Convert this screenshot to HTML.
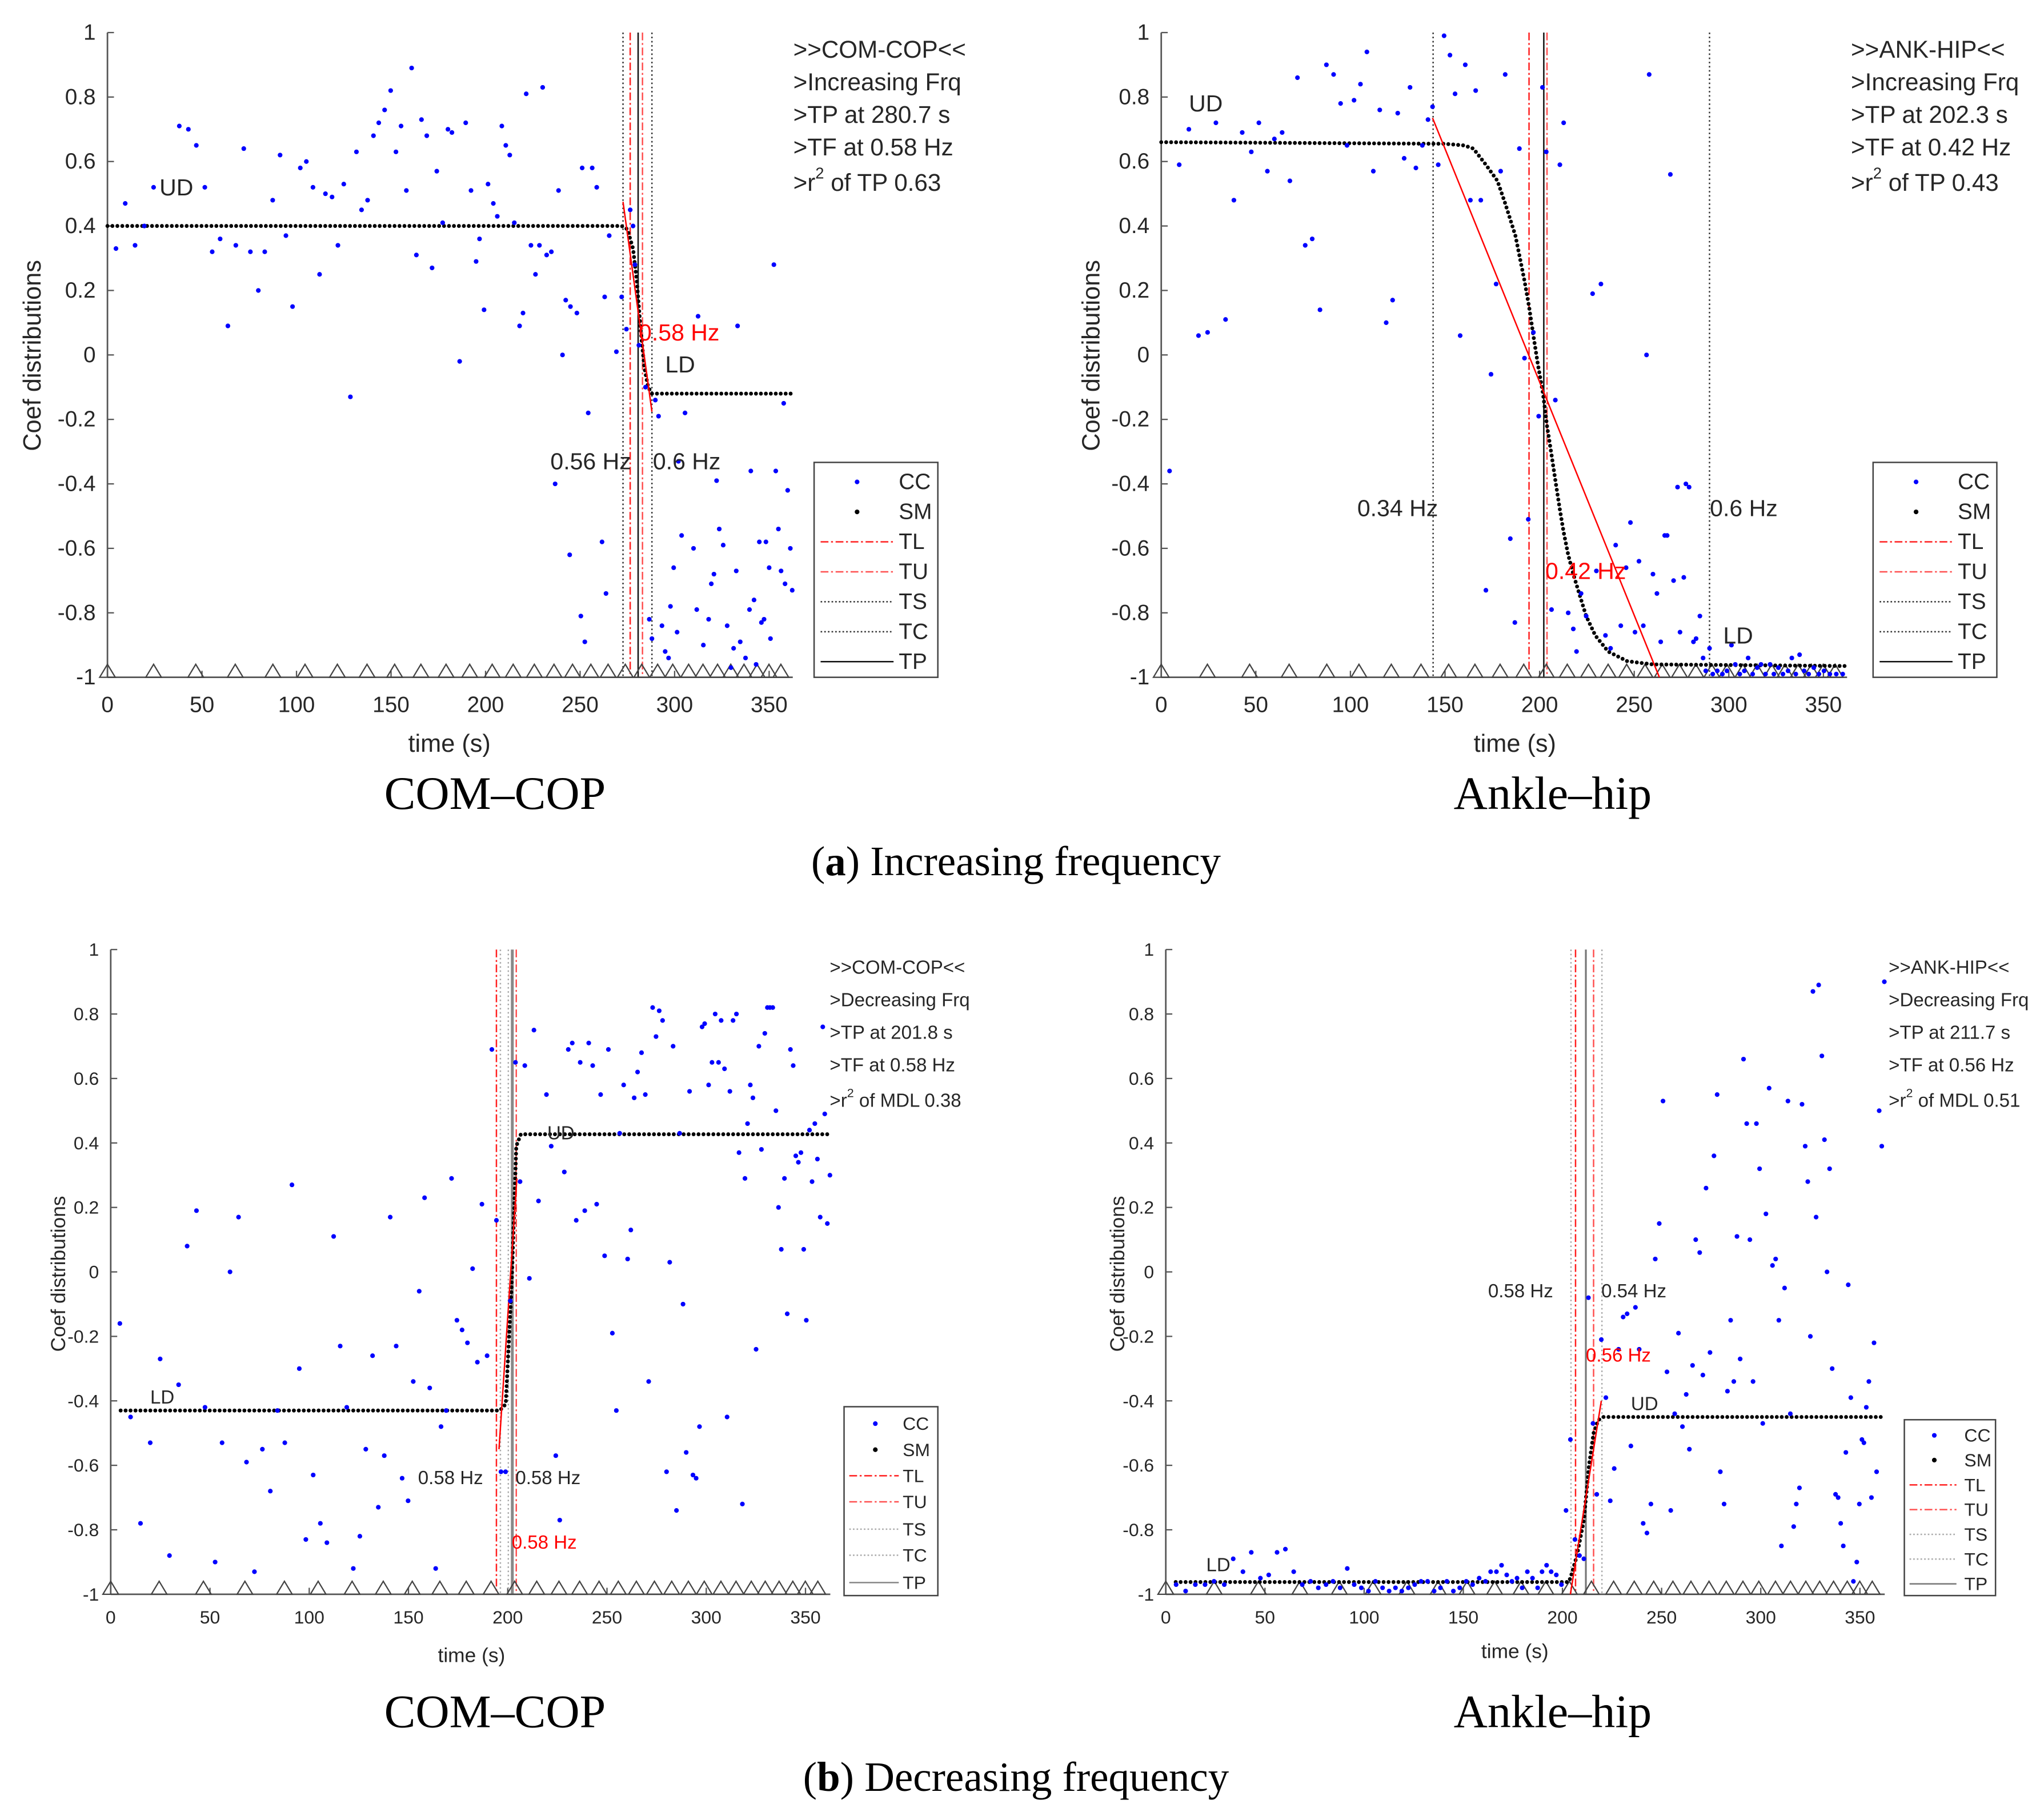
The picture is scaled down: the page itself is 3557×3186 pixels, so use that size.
<!DOCTYPE html>
<html><head><meta charset="utf-8"><title>Coef distributions</title>
<style>
html,body{margin:0;padding:0;background:#fff;}
svg{display:block;}
text{font-family:"Liberation Sans",sans-serif;fill:#262626;}
.serif{font-family:"Liberation Serif",serif;fill:#000;}
</style></head>
<body>
<svg id="fig" xmlns="http://www.w3.org/2000/svg" width="3557" height="3186" viewBox="0 0 1560 1397.3" preserveAspectRatio="none">
<rect x="0" y="0" width="1560" height="1397.3" fill="#fff"/>
<text class="serif" x="380" y="621" font-size="36" text-anchor="middle">COM–COP</text>
<text class="serif" x="1192" y="621" font-size="36" text-anchor="middle">Ankle–hip</text>
<text class="serif" x="780" y="672" font-size="32" text-anchor="middle">(<tspan font-weight="bold">a</tspan>) Increasing frequency</text>
<text class="serif" x="380" y="1326" font-size="36" text-anchor="middle">COM–COP</text>
<text class="serif" x="1192" y="1326" font-size="36" text-anchor="middle">Ankle–hip</text>
<text class="serif" x="780" y="1375" font-size="32" text-anchor="middle">(<tspan font-weight="bold">b</tspan>) Decreasing frequency</text>
</svg>
<script>
// shared triangle marker times
const triTimes=[0,24.4,46.7,67.6,87.5,104.5,121.6,137.3,151.9,165.8,179.1,191.6,203.5,214.6,225.8,236.2,246,255.7,264.8,273.9,282.6,291,299,307.4,315,322.7,329.7,336.7,343.6,349.9,356.2];
const yTicks=[1,0.8,0.6,0.4,0.2,0,-0.2,-0.4,-0.6,-0.8,-1];
const yTickLabels=["1","0.8","0.6","0.4","0.2","0","-0.2","-0.4","-0.6","-0.8","-1"];
const xTicks=[0,50,100,150,200,250,300,350];
const legendLabels=["CC","SM","TL","TU","TS","TC","TP"];

// Panel A-left (COM-COP increasing)
const aL_ccT=[4.5,9.4,14.6,19.5,24.4,38,42.8,47,51.5,55.4,59.6,63.7,67.9,72.1,75.6,79.8,83.2,87.4,91.3,94.4,97.9,102,105.2,108.7,112.2,115.3,118.8,121.9,125,128.5,131.7,134.4,137.6,140.7,143.5,146.6,149.8,152.6,155.3,158.1,160.9,163.4,166.1,168.9,171.7,174.2,177.3,180.1,182.2,186.3,189.5,192.3,195,196.8,199.2,201.3,204.1,206.2,208.6,210.7,212.8,215.2,218,219.8,221.5,224,226.4,228.5,230.2,232.3,234.8,238.6,240.7,242.4,244.9,248.3,251.1,254.3,256.4,258.8,263,265.4,269.2,272,274.5,276.5,278,279,281.1,284.6,289.8,291.5,305.5,312.4,333.3,352.5,357.7,236.8,244.5,261.6,263.7,250.4,252.5,286.6,288,293.3,295,296.8,297.8,299.5,301.3,303.7,310,311.7,315.2,318,319.4,320.8,322.2,323.6,325.7,327.8,329.8,331.2,332.6,334.7,337.5,339.6,340.3,342,343.1,344.8,345.9,347.3,348.3,350,350.7,353.5,354.9,356.3,358.4,359.8,361.2,362.2,302];
const aL_ccV=[0.33,0.47,0.34,0.40,0.52,0.71,0.70,0.65,0.52,0.32,0.36,0.09,0.34,0.64,0.32,0.20,0.32,0.48,0.62,0.37,0.15,0.58,0.60,0.52,0.25,0.50,0.49,0.34,0.53,-0.13,0.63,0.45,0.48,0.68,0.72,0.76,0.82,0.63,0.71,0.51,0.89,0.31,0.73,0.68,0.27,0.57,0.41,0.70,0.69,-0.02,0.72,0.51,0.29,0.36,0.14,0.53,0.47,0.43,0.71,0.65,0.62,0.41,0.09,0.13,0.81,0.34,0.25,0.34,0.83,0.31,0.32,0.51,0.0,0.17,0.15,0.13,0.58,-0.18,0.58,0.52,0.18,0.37,0.01,0.18,0.08,0.45,0.40,0.28,0.03,-0.10,-0.14,-0.19,-0.18,0.12,0.09,0.28,-0.15,-0.40,-0.62,-0.58,-0.74,-0.81,-0.89,-0.82,-0.88,-0.84,-0.92,-0.94,-0.78,-0.66,-0.86,-0.56,-0.60,-0.79,-0.90,-0.82,-0.71,-0.68,-0.39,-0.54,-0.59,-0.84,-0.97,-0.91,-0.67,-0.89,-0.94,-0.79,-0.36,-0.76,-0.96,-0.58,-0.83,-0.82,-0.58,-0.66,-0.88,-0.36,-0.54,-0.67,-0.71,-0.42,-0.60,-0.73,-0.33];
const aL_smT=[0,272,275,278,280,282,284,286,288,362];
const aL_smV=[0.40,0.40,0.39,0.33,0.23,0.08,-0.04,-0.10,-0.12,-0.12];
const aL_fitT=[272.7,288];
const aL_fitV=[0.475,-0.176];
const aL_vlines=[272.7,276.5,280.7,283,288]; // TS, TL, TP, TU, TC
const aL_notes=[">>COM-COP<<",">Increasing Frq",">TP at 280.7 s",">TF at 0.58 Hz","TP 0.63"];

// Panel A-right (ANK-HIP increasing)
const aR_ccT=[4.4,9.5,14.6,19.7,24.5,28.9,34,38.4,42.8,47.6,51.6,56.1,59.8,63.9,68,72,76.1,79.8,83.9,87.3,91.1,94.8,98.2,101.9,105.3,108.7,112.1,115.5,118.9,122.3,125,128.4,131.5,134.6,138,141,143.4,146.4,149.5,152.6,155.3,158,160.7,163.4,166.2,168.9,171.6,174.3,177,179.4,181.8,184.5,186.9,189.3,192,194,196.7,199.5,201.5,203.5,206.3,208.3,210.7,212.7,215.1,217.8,219.5,221.9,224.6,228,230,232.4,234.8,237.5,240.2,242.9,245.7,248,250.4,252.5,254.8,256.5,257.9,259.9,262,264,266.1,267.4,269.1,270.8,272.9,274.2,276.2,277.3,279,281.3,282.7,284.7,286.4,287.8,289.8,291.5,293.9,296.6,299,301.4,303.4,305.8,308.2,310.2,312.6,315,317,319.4,321.8,323.8,326.2,328.6,331.3,333.3,335.4,337.4,339.8,342.2,344.9,347.6,350.3,353.4,356.8,360.2];
const aR_ccV=[-0.36,0.59,0.70,0.06,0.07,0.72,0.11,0.48,0.69,0.63,0.72,0.57,0.67,0.69,0.54,0.86,0.34,0.36,0.14,0.90,0.87,0.78,0.65,0.79,0.84,0.94,0.57,0.76,0.10,0.17,0.75,0.61,0.83,0.58,0.65,0.73,0.77,0.59,0.99,0.93,0.81,0.06,0.90,0.48,0.82,0.48,-0.73,-0.06,0.22,0.57,0.87,-0.57,-0.83,0.64,-0.01,-0.51,0.07,-0.19,0.83,0.63,-0.79,-0.14,0.59,0.72,-0.80,-0.85,-0.92,-0.74,-0.81,0.19,-0.67,0.22,-0.87,-0.91,-0.59,-0.84,-0.66,-0.52,-0.86,-0.64,-0.84,0.0,0.87,-0.68,-0.74,-0.89,-0.56,-0.56,0.56,-0.70,-0.41,-0.86,-0.69,-0.40,-0.41,-0.89,-0.88,-0.81,-0.94,-0.98,-0.91,-0.99,-0.98,-0.99,-0.98,-0.90,-0.96,-0.99,-0.98,-0.94,-0.99,-0.97,-0.96,-0.99,-0.96,-0.99,-0.97,-0.99,-0.98,-0.94,-0.99,-0.93,-0.98,-0.99,-0.97,-0.99,-0.98,-0.99,-0.99,-0.99];
const aR_smT=[0,149.8,160,165,171.6,177.7,181.8,184.5,187.2,189.6,192,194.4,196.7,199.1,201.8,203.9,206.3,208.6,210.7,212.7,215.1,217.8,220.9,224.6,229.4,236.2,246.3,259.9,362.6];
const aR_smV=[0.66,0.655,0.65,0.64,0.59,0.54,0.47,0.42,0.37,0.30,0.23,0.15,0.06,-0.03,-0.12,-0.22,-0.31,-0.40,-0.48,-0.55,-0.62,-0.68,-0.74,-0.81,-0.87,-0.92,-0.95,-0.96,-0.965];
const aR_fitT=[143.4,263.3];
const aR_fitV=[0.735,-1.0];
const aR_vlines=[143.7,194.4,202.2,203.9,289.8];
const aR_notes=[">>ANK-HIP<<",">Increasing Frq",">TP at 202.3 s",">TF at 0.42 Hz","TP 0.43"];

// Panel B-left (COM-COP decreasing)
const bL_ccT=[4.6,10,15,19.9,24.9,29.6,34.2,38.5,43.2,47.5,52.6,56.1,60.1,64.4,68.4,72.4,76.4,80.4,84,87.7,91.3,95,98.3,102,105.6,108.9,112.3,115.6,118.9,122.2,125.5,128.5,131.9,134.8,137.8,140.8,143.8,146.8,149.8,152.4,155.4,158.1,160.7,163.7,166.4,169,171.7,174.4,177,179.7,182.3,184.7,187,189.6,192,194.3,196.6,198.9,201.3,203.9,206.2,208.6,210.9,213.2,215.5,219.5,221.9,224.2,226.2,228.5,230.5,232.5,234.5,236.5,238.8,240.8,242.8,244.8,246.8,248.8,250.7,252.7,254.7,256.4,258.4,260.4,262,263.7,265.4,267.4,269.3,271,273,274.7,276.3,278,280,281.6,283.3,285,286.6,288.3,289.9,291.6,293.3,294.9,296.6,297.9,299.2,301.2,302.9,304.5,306.2,307.5,309.2,310.5,311.9,313.5,315.2,316.5,318.2,319.5,320.8,322.2,323.5,325.1,326.5,327.8,329.5,330.8,332.1,333.5,335.1,336.4,337.8,339.4,340.8,342.4,343.8,345.1,346.4,347.7,349.1,350.4,352,353.3,354.7,356,357.4,358.7,359.7,361,362.3];
const bL_ccV=[-0.16,-0.45,-0.78,-0.53,-0.27,-0.88,-0.35,0.08,0.19,-0.42,-0.90,-0.53,0.0,0.17,-0.59,-0.93,-0.55,-0.68,-0.43,-0.53,0.27,-0.30,-0.83,-0.63,-0.78,-0.84,0.11,-0.23,-0.42,-0.92,-0.82,-0.55,-0.26,-0.73,-0.57,0.17,-0.23,-0.64,-0.71,-0.34,-0.06,0.23,-0.36,-0.92,-0.48,-0.43,0.29,-0.15,-0.18,-0.22,0.01,-0.28,0.21,-0.26,0.69,0.16,-0.62,-0.62,-0.09,0.65,0.28,0.64,-0.02,0.75,0.22,0.55,0.39,-0.57,-0.77,0.31,0.69,0.71,0.16,0.65,0.19,0.71,0.64,0.21,0.55,0.05,0.69,-0.19,-0.43,0.43,0.58,0.04,0.13,0.54,0.62,0.68,0.55,-0.34,0.82,0.73,0.81,0.78,-0.62,0.03,0.70,-0.74,0.43,-0.10,-0.56,0.56,-0.63,-0.64,-0.48,0.76,0.77,0.58,0.65,0.80,0.65,0.78,0.63,-0.45,0.56,0.78,0.80,0.37,-0.72,0.29,0.46,0.58,0.54,-0.24,0.70,0.38,0.74,0.82,0.82,0.82,0.50,0.20,0.07,0.29,-0.13,0.69,0.64,0.36,0.34,0.37,0.07,-0.15,0.44,0.28,0.46,0.35,0.17,0.76,0.49,0.15,0.30];
const bL_smT=[5,196,199,201.9,204.3,206.6,362.3];
const bL_smV=[-0.43,-0.43,-0.41,-0.05,0.39,0.427,0.427];
const bL_fitT=[195.6,204.6];
const bL_fitV=[-0.55,0.29];
const bL_vlines=[196.3,194.3,202.3,204.3,200.3];
const bL_notes=[">>COM-COP<<",">Decreasing Frq",">TP at 201.8 s",">TF at 0.58 Hz","MDL 0.38"];

// Panel B-right (ANK-HIP decreasing)
const bR_ccT=[5.2,10,14.9,19.8,24.3,29.5,34,38.9,43.1,47.7,51.9,56.1,60.3,64.5,68.8,73,76.9,80.8,84.3,87.9,91.5,95,98.6,102.2,105.7,109.3,112.6,115.8,119,122.3,125.5,128.7,132,135.3,138.5,141.7,145,148.2,151.5,154.7,158,161.2,163.8,166.7,169.3,171.9,174.5,177.1,179.7,182.3,184.9,187.5,189.7,192,194.3,196.9,199.5,201.8,204,206.3,208.6,210.8,213.1,215.4,217.3,219.6,221.9,224.1,226.1,228.3,230.6,232.6,234.5,236.8,238.7,240.7,242.6,244.6,246.8,248.8,250.7,252.7,254.6,256.6,258.5,260.5,262.4,264,265.6,267.2,269.2,270.8,272.4,274.4,276.4,278,279.6,281.5,283.2,284.8,286.4,288,289.6,291.3,292.9,294.5,296.1,297.8,299.4,301,302.6,304.2,305.9,307.5,309.1,310.4,312,313.7,314.9,316.6,317.9,319.5,320.8,322.4,323.7,325,326.3,327.9,329.2,330.8,332.1,333.4,334.7,336,337.7,339,340.3,341.6,342.9,344.1,345.4,346.7,348.4,349.7,351,352,353.2,354.5,355.8,357.1,358.4,359.7,361,362.3];
const bR_ccV=[-0.97,-0.99,-0.97,-0.97,-0.96,-0.97,-0.89,-0.93,-0.87,-0.95,-0.94,-0.87,-0.86,-0.93,-0.97,-0.96,-0.98,-0.97,-0.96,-0.98,-0.92,-0.97,-0.98,-0.99,-0.96,-0.98,-0.99,-0.98,-0.99,-0.98,-0.97,-0.96,-0.96,-0.99,-0.98,-0.96,-0.99,-0.98,-0.96,-0.97,-0.95,-0.96,-0.93,-0.93,-0.91,-0.94,-0.96,-0.95,-0.98,-0.93,-0.95,-0.98,-0.93,-0.91,-0.93,-0.94,-0.97,-0.74,-0.52,-0.83,-0.88,-0.89,-0.08,-0.47,-0.69,-0.21,-0.39,-0.71,-0.61,-0.24,-0.14,-0.13,-0.54,-0.11,-0.24,-0.78,-0.81,-0.72,0.04,0.15,0.53,-0.31,-0.74,-0.44,-0.19,-0.48,-0.38,-0.55,-0.29,0.10,0.06,-0.32,0.26,-0.25,0.36,0.55,-0.62,-0.72,-0.37,-0.15,-0.34,0.11,-0.27,0.66,0.46,0.10,-0.34,0.46,0.32,-0.47,0.18,0.57,0.02,0.04,-0.15,-0.85,-0.05,0.53,-0.44,-0.79,-0.72,-0.67,0.52,0.39,0.28,-0.20,0.87,0.17,0.89,0.67,0.41,0.0,0.32,-0.30,-0.69,-0.70,-0.78,-0.85,-0.56,-0.04,-0.39,-0.96,-0.90,-0.72,-0.52,-0.53,-0.42,-0.34,-0.70,-0.22,-0.62,0.50,0.39,0.90];
const bR_smT=[5,203,204,207.3,210.8,213.4,215.7,218,220.6,362.3];
const bR_smV=[-0.962,-0.962,-0.95,-0.88,-0.77,-0.60,-0.50,-0.46,-0.45,-0.45];
const bR_fitT=[204,219.6];
const bR_fitV=[-1.0,-0.40];
const bR_vlines=[204.3,206.6,211.8,215.7,219.9];
const bR_notes=[">>ANK-HIP<<",">Decreasing Frq",">TP at 211.7 s",">TF at 0.56 Hz","MDL 0.51"];

const NS="http://www.w3.org/2000/svg";
const fig=document.getElementById('fig');
function mk(tag,attrs,parent,name,inter){
  const el=document.createElementNS(NS,tag);
  for(const k in attrs) el.setAttribute(k,attrs[k]);
  
  
  (parent||fig).appendChild(el);
  return el;
}
function txt(x,y,s,size,anchor,fill,parent,name,extra){
  const a={x:x,y:y,'font-size':size,'text-anchor':anchor||'start','dominant-baseline':'central'};
  if(fill) a.style='fill:'+fill;
  if(extra) for(const k in extra) a[k]=extra[k];
  const t=mk('text',a,parent,name,false);
  t.textContent=s;
  return t;
}

function drawPanel(P){
  const g=mk('g',{},fig,P.id,false);
  const X=t=>P.x0+t*P.pps;
  const Y=v=>P.yTop+(1-v)*(P.yBot-P.yTop)/2;
  const tEnd=362.5;
  mk('line',{x1:X(0),y1:P.yTop,x2:X(0),y2:P.yBot,stroke:'#555','stroke-width':1.2},g,'y-axis-line',false);
  mk('line',{x1:X(0),y1:P.yBot,x2:X(tEnd),y2:P.yBot,stroke:'#555','stroke-width':1.2},g,'x-axis-line',false);
  yTicks.forEach((v,i)=>{
    mk('line',{x1:X(0),y1:Y(v),x2:X(0)+5,y2:Y(v),stroke:'#555','stroke-width':1},g,'y-tick',false);
    txt(X(0)-9,Y(v),yTickLabels[i],P.fs,'end',null,g,'y-tick-label');
  });
  xTicks.forEach(t=>{
    mk('line',{x1:X(t),y1:P.yBot,x2:X(t),y2:P.yBot-5,stroke:'#555','stroke-width':1},g,'x-tick',false);
    txt(X(t),P.yBot+P.fs*1.25,String(t),P.fs,'middle',null,g,'x-tick-label');
  });
  txt(P.xlab[0],P.xlab[1],'time (s)',P.fl,'middle',null,g,'x-axis-title');
  txt(0,0,'Coef distributions',P.fl,'middle',null,g,'y-axis-title',{transform:'translate('+P.ylab[0]+','+P.ylab[1]+') rotate(-90)'});
  const vs=P.vl;
  const vstyle=[
    {stroke:P.tsCol,'stroke-dasharray':'1.2 2','stroke-width':1.1},
    {stroke:'#ff2020','stroke-dasharray':'6 2 1.5 2','stroke-width':1.1},
    {stroke:P.tpCol,'stroke-width':P.tpW},
    {stroke:'#ff5050','stroke-dasharray':'6 2 1.5 2','stroke-width':1.1},
    {stroke:P.tsCol,'stroke-dasharray':'1.2 2','stroke-width':1.1}];
  const vnames=['ts-line','tl-line','tp-line','tu-line','tc-line'];
  vs.forEach((t,i)=>{
    const a=Object.assign({x1:X(t),x2:X(t),y1:P.yTop,y2:P.yBot},vstyle[i]);
    mk('line',a,g,vnames[i],false);
  });
  triTimes.forEach(t=>{
    const x=X(t),y=P.yBot;
    mk('path',{d:'M'+(x-6)+' '+y+' L'+x+' '+(y-10)+' L'+(x+6)+' '+y+' Z',fill:'none',stroke:'#444','stroke-width':1},g,'triangle-marker',false);
  });
  let d='';
  P.smT.forEach((t,i)=>{d+=(i?'L':'M')+X(t).toFixed(2)+' '+Y(P.smV[i]).toFixed(2)+' ';});
  mk('path',{d:d,fill:'none',stroke:'#000','stroke-width':3,'stroke-linecap':'round','stroke-dasharray':'0 3.8'},g,'sm-series',false);
  mk('line',{x1:X(P.fitT[0]),y1:Y(P.fitV[0]),x2:X(P.fitT[1]),y2:Y(P.fitV[1]),stroke:'#ff0000','stroke-width':1.1},g,'tp-fit-line',false);
  P.ccT.forEach((t,i)=>{
    mk('circle',{cx:X(t),cy:Y(P.ccV[i]),r:1.8,fill:'#0000ff'},g,'cc-point',false);
  });
  P.labels.forEach(L=>{
    txt(X(L.t),Y(L.v),L.s,P.fsl,L.a||'start',L.c||null,g,L.n);
  });
  P.notes.forEach((s,i)=>{
    if(i<4){ txt(P.ax,P.ay[i],s,P.fa,'start',null,g,'annotation-line'); }
    else {
      const t=txt(P.ax,P.ay[i],'',P.fa,'start',null,g,'annotation-r2');
      const t1=document.createElementNS(NS,'tspan'); t1.textContent='>r'; t.appendChild(t1);
      const t2=document.createElementNS(NS,'tspan'); t2.setAttribute('dy',-P.fa*0.4); t2.setAttribute('font-size',P.fa*0.65); t2.textContent='2'; t.appendChild(t2);
      const t3=document.createElementNS(NS,'tspan'); t3.setAttribute('dy',P.fa*0.4); t3.textContent=' of  '+s; t.appendChild(t3);
    }
  });
  const Lg=P.leg;
  const lg=mk('g',{},g,'legend',false);
  mk('rect',{x:Lg.x1,y:Lg.y1,width:Lg.x2-Lg.x1,height:Lg.y2-Lg.y1,fill:'#fff',stroke:'#444','stroke-width':1.1},lg,'legend-box',false);
  const sampleStyles=[null,null,
    {stroke:'#ff2020','stroke-dasharray':'6 2 1.5 2'},
    {stroke:'#ff5050','stroke-dasharray':'6 2 1.5 2'},
    {stroke:P.tsCol,'stroke-dasharray':'1.2 1.6'},
    {stroke:P.tsCol,'stroke-dasharray':'1.2 1.6'},
    {stroke:P.tpCol}];
  legendLabels.forEach((s,i)=>{
    const y=Lg.ys[i];
    if(i===0) mk('circle',{cx:Lg.dot,cy:y,r:1.8,fill:'#0000ff'},lg,'legend-cc-marker',false);
    else if(i===1) mk('circle',{cx:Lg.dot,cy:y,r:1.8,fill:'#000'},lg,'legend-sm-marker',false);
    else mk('line',Object.assign({x1:Lg.s1,x2:Lg.s2,y1:y,y2:y,'stroke-width':1.1},sampleStyles[i]),lg,'legend-'+s.toLowerCase()+'-sample',false);
    txt(Lg.tx,y,s,P.fleg,'start',null,lg,'legend-entry-'+s.toLowerCase());
  });
}

const A_Y=[25,520], B_Y=[729,1224];
drawPanel({id:'panel-a-left',x0:82.5,pps:1.4514,yTop:A_Y[0],yBot:A_Y[1],fs:17,fl:19,fsl:18,fa:18.5,fleg:17,
  ccT:aL_ccT,ccV:aL_ccV,smT:aL_smT,smV:aL_smV,fitT:aL_fitT,fitV:aL_fitV,vl:aL_vlines,notes:aL_notes,
  tsCol:'#333',tpCol:'#111',tpW:1.1,
  xlab:[345,571],ylab:[25,273],ax:609,ay:[38,63,88,113,140],
  labels:[{t:27.5,v:0.52,s:'UD',n:'ud-label'},{t:281,v:0.07,s:'0.58 Hz',c:'#ff0000',n:'tf-label'},{t:295,v:-0.03,s:'LD',n:'ld-label'},{t:277,v:-0.33,s:'0.56 Hz',a:'end',n:'ts-label'},{t:288.5,v:-0.33,s:'0.6 Hz',n:'tc-label'}],
  leg:{x1:625,y1:355,x2:720,y2:520,ys:[370,393,416,439,462,485,508],dot:658,s1:630,s2:686,tx:690}});
drawPanel({id:'panel-a-right',x0:891.5,pps:1.4525,yTop:A_Y[0],yBot:A_Y[1],fs:17,fl:19,fsl:18,fa:18.5,fleg:17,
  ccT:aR_ccT,ccV:aR_ccV,smT:aR_smT,smV:aR_smV,fitT:aR_fitT,fitV:aR_fitV,vl:aR_vlines,notes:aR_notes,
  tsCol:'#333',tpCol:'#111',tpW:1.1,
  xlab:[1163,571],ylab:[838,273],ax:1421,ay:[38,63,88,113,140],
  labels:[{t:14.6,v:0.78,s:'UD',n:'ud-label'},{t:103.6,v:-0.475,s:'0.34 Hz',n:'ts-label'},{t:290,v:-0.475,s:'0.6 Hz',n:'tc-label'},{t:203,v:-0.67,s:'0.42 Hz',c:'#ff0000',n:'tf-label'},{t:297,v:-0.87,s:'LD',n:'ld-label'}],
  leg:{x1:1438,y1:355,x2:1533,y2:520,ys:[370,393,416,439,462,485,508],dot:1471,s1:1443,s2:1499,tx:1503}});
drawPanel({id:'panel-b-left',x0:85,pps:1.524,yTop:B_Y[0],yBot:B_Y[1],fs:14,fl:15.5,fsl:14.5,fa:14.5,fleg:14,
  ccT:bL_ccT,ccV:bL_ccV,smT:bL_smT,smV:bL_smV,fitT:bL_fitT,fitV:bL_fitV,vl:bL_vlines,notes:bL_notes,
  tsCol:'#aaa',tpCol:'#888',tpW:2.2,
  xlab:[362,1271],ylab:[45,978],ax:637,ay:[743,768,793,818,845],
  labels:[{t:19.9,v:-0.39,s:'LD',n:'ld-label'},{t:219.9,v:0.43,s:'UD',n:'ud-label'},{t:187.6,v:-0.64,s:'0.58 Hz',a:'end',n:'ts-label'},{t:203.9,v:-0.64,s:'0.58 Hz',n:'tc-label'},{t:202,v:-0.84,s:'0.58 Hz',c:'#ff0000',n:'tf-label'}],
  leg:{x1:648,y1:1080,x2:720,y2:1225,ys:[1093,1113,1133,1153,1174,1194,1215],dot:672,s1:652,s2:690,tx:693}});
drawPanel({id:'panel-b-right',x0:895,pps:1.5226,yTop:B_Y[0],yBot:B_Y[1],fs:14,fl:15.5,fsl:14.5,fa:14.5,fleg:14,
  ccT:bR_ccT,ccV:bR_ccV,smT:bR_smT,smV:bR_smV,fitT:bR_fitT,fitV:bR_fitV,vl:bR_vlines,notes:bR_notes,
  tsCol:'#aaa',tpCol:'#777',tpW:1.4,
  xlab:[1163,1268],ylab:[858,978],ax:1450,ay:[743,768,793,818,845],
  labels:[{t:20.4,v:-0.91,s:'LD',n:'ld-label'},{t:234.5,v:-0.41,s:'UD',n:'ud-label'},{t:195.3,v:-0.06,s:'0.58 Hz',a:'end',n:'ts-label'},{t:219.6,v:-0.06,s:'0.54 Hz',n:'tc-label'},{t:211.8,v:-0.26,s:'0.56 Hz',c:'#ff0000',n:'tf-label'}],
  leg:{x1:1462,y1:1090,x2:1532,y2:1225,ys:[1102,1121,1140,1159,1178,1197,1216],dot:1485,s1:1466,s2:1502,tx:1508}});
</script>
</body></html>
